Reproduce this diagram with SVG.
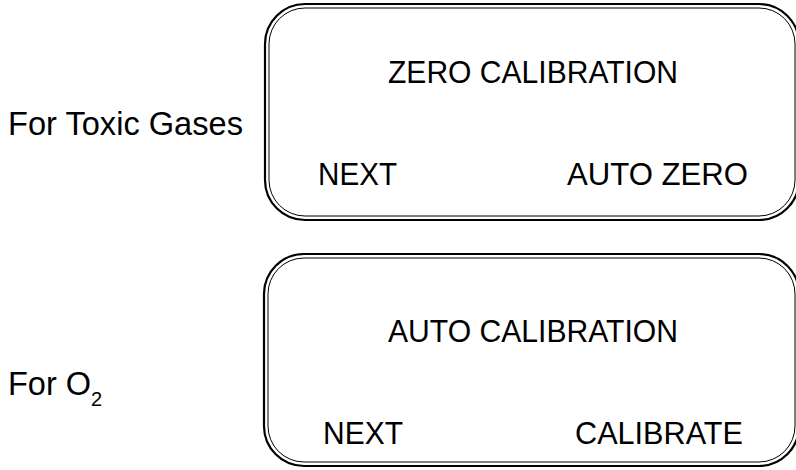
<svg xmlns="http://www.w3.org/2000/svg" width="796" height="470" viewBox="0 0 796 470">
<style>
.outer{fill:none;stroke:#000;stroke-width:2.2}
.inner{fill:none;stroke:#000;stroke-width:1}
.t{font-family:"Liberation Sans",Arial,sans-serif;font-size:31.5px;fill:#000}
.l{font-family:"Liberation Sans",Arial,sans-serif;font-size:32.5px;fill:#000}
.s{font-family:"Liberation Sans",Arial,sans-serif;font-size:20px;fill:#000}
</style>
<rect width="796" height="470" fill="#fff"/>
<g id="label-toxic"><text class="l" x="8" y="135" textLength="235" lengthAdjust="spacingAndGlyphs">For Toxic Gases</text></g>
<g id="label-o2"><text class="l" x="8" y="395">For O</text><text class="s" x="91" y="406">2</text></g>
<g id="screen-zero">
<rect class="outer" x="265" y="4" width="534" height="216" rx="40"/>
<rect class="inner" x="269" y="8" width="526" height="208" rx="36"/>
<text class="t" x="388" y="83" textLength="290" lengthAdjust="spacingAndGlyphs">ZERO CALIBRATION</text>
<text class="t" x="318" y="185" textLength="79" lengthAdjust="spacingAndGlyphs">NEXT</text>
<text class="t" x="567" y="185" textLength="181" lengthAdjust="spacingAndGlyphs">AUTO ZERO</text>
</g>
<g id="screen-auto">
<rect class="outer" x="264" y="254" width="535" height="212" rx="40"/>
<rect class="inner" x="268" y="258" width="527" height="204" rx="36"/>
<text class="t" x="388" y="342" textLength="290" lengthAdjust="spacingAndGlyphs">AUTO CALIBRATION</text>
<text class="t" x="323" y="444" textLength="80" lengthAdjust="spacingAndGlyphs">NEXT</text>
<text class="t" x="575" y="444" textLength="168" lengthAdjust="spacingAndGlyphs">CALIBRATE</text>
</g>
<g id="connectors"></g>
</svg>
